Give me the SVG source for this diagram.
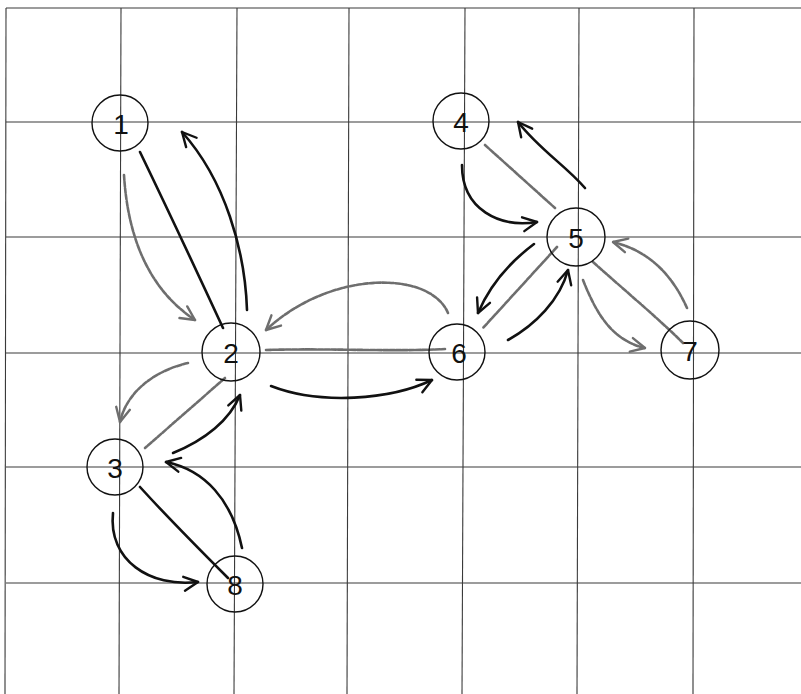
<svg xmlns="http://www.w3.org/2000/svg" width="801" height="694" viewBox="0 0 801 694">
  <style>
    .grid line { stroke: #3a3a3a; stroke-width: 1.1; }
    .node circle { fill: none; stroke: #111; stroke-width: 1.4; }
    .node text { font-family: "Liberation Sans", Arial, sans-serif; font-size: 28px; fill: #111; text-anchor: middle; dominant-baseline: central; }
    .ink { fill: none; stroke: #111; stroke-width: 2.6; stroke-linecap: round; }
    .pencil { fill: none; stroke: #6e6e6e; stroke-width: 2.6; stroke-linecap: round; stroke-dasharray: 5 1.5; }
    .ink.arrow { marker-end: url(#tip-ink); }
    .pencil.arrow { marker-end: url(#tip-pencil); }
  </style>
  <defs>
    <marker id="tip-ink" viewBox="-16 -9 18 18" refX="0" refY="0" markerWidth="18" markerHeight="18" markerUnits="userSpaceOnUse" orient="auto">
      <path d="M-14,-7 L0,0 L-14,7" fill="none" stroke="#111" stroke-width="2.4" stroke-linecap="round" stroke-linejoin="round"/>
    </marker>
    <marker id="tip-pencil" viewBox="-16 -9 18 18" refX="0" refY="0" markerWidth="18" markerHeight="18" markerUnits="userSpaceOnUse" orient="auto">
      <path d="M-14,-7 L0,0 L-14,7" fill="none" stroke="#6e6e6e" stroke-width="2.4" stroke-linecap="round" stroke-linejoin="round"/>
    </marker>
  </defs>

  <rect width="801" height="694" fill="#fff"/>

  <!-- background grid -->
  <g class="grid">
    <line x1="6" y1="8" x2="801" y2="8"/>
    <line x1="6" y1="122" x2="801" y2="122"/>
    <line x1="6" y1="237" x2="801" y2="237"/>
    <line x1="6" y1="353" x2="801" y2="353"/>
    <line x1="6" y1="467" x2="801" y2="467"/>
    <line x1="6" y1="583" x2="801" y2="583"/>
    <line x1="6" y1="8" x2="5" y2="694"/>
    <line x1="121" y1="8" x2="119" y2="694"/>
    <line x1="237" y1="8" x2="234" y2="694"/>
    <line x1="349" y1="8" x2="347" y2="694"/>
    <line x1="465" y1="8" x2="462" y2="694"/>
    <line x1="579" y1="8" x2="577" y2="694"/>
    <line x1="694" y1="8" x2="693" y2="694"/>
  </g>

  <!-- connectors -->
  <g id="connectors">
    <!-- 1 / 2 -->
    <path class="ink" d="M140,152 Q180,235 223,328"/>
    <path class="ink arrow" d="M247,310 C245,250 225,180 182,132"/>
    <path class="pencil arrow" d="M124,175 C128,240 150,290 195,320"/>
    <!-- 2 / 6 -->
    <path class="pencil arrow" d="M448,313 C430,270 330,270 266,330"/>
    <path class="pencil" d="M266,350 C330,348 390,352 445,349"/>
    <path class="ink arrow" d="M271,386 C320,405 390,400 432,380"/>
    <!-- 2 / 3 -->
    <path class="pencil arrow" d="M188,363 C150,372 126,395 120,422"/>
    <path class="pencil" d="M225,378 L145,448"/>
    <path class="ink arrow" d="M173,453 C205,440 230,420 240,395"/>
    <!-- 3 / 8 -->
    <path class="ink" d="M140,487 C170,520 200,550 228,578"/>
    <path class="ink arrow" d="M242,548 C232,500 205,470 166,462"/>
    <path class="ink arrow" d="M113,513 C108,560 150,588 198,582"/>
    <!-- 4 / 5 -->
    <path class="pencil" d="M485,145 L555,208"/>
    <path class="ink arrow" d="M462,165 C462,210 500,228 537,222"/>
    <path class="ink arrow" d="M585,188 C565,165 540,150 518,122"/>
    <!-- 5 / 6 -->
    <path class="ink arrow" d="M534,244 C510,262 490,285 478,313"/>
    <path class="pencil" d="M557,247 L483,328"/>
    <path class="ink arrow" d="M508,340 C535,325 560,300 568,270"/>
    <!-- 5 / 7 -->
    <path class="pencil" d="M593,262 C630,295 660,320 683,343"/>
    <path class="pencil arrow" d="M687,308 C670,270 645,250 613,242"/>
    <path class="pencil arrow" d="M583,280 C595,310 610,340 645,348"/>
  </g>

  <!-- nodes -->
  <g id="node-1" class="node"><circle cx="120" cy="123" r="28"/><text x="121" y="124">1</text></g>
  <g id="node-2" class="node"><circle cx="231" cy="352" r="29"/><text x="231" y="353">2</text></g>
  <g id="node-3" class="node"><circle cx="115" cy="467" r="28"/><text x="115" y="468">3</text></g>
  <g id="node-4" class="node"><circle cx="461" cy="121" r="28"/><text x="461" y="122">4</text></g>
  <g id="node-5" class="node"><circle cx="576" cy="237" r="29"/><text x="576" y="238">5</text></g>
  <g id="node-6" class="node"><circle cx="457" cy="352" r="28"/><text x="459" y="353">6</text></g>
  <g id="node-7" class="node"><circle cx="690" cy="350" r="29"/><text x="690" y="351">7</text></g>
  <g id="node-8" class="node"><circle cx="235" cy="584" r="28"/><text x="235" y="585">8</text></g>
</svg>
